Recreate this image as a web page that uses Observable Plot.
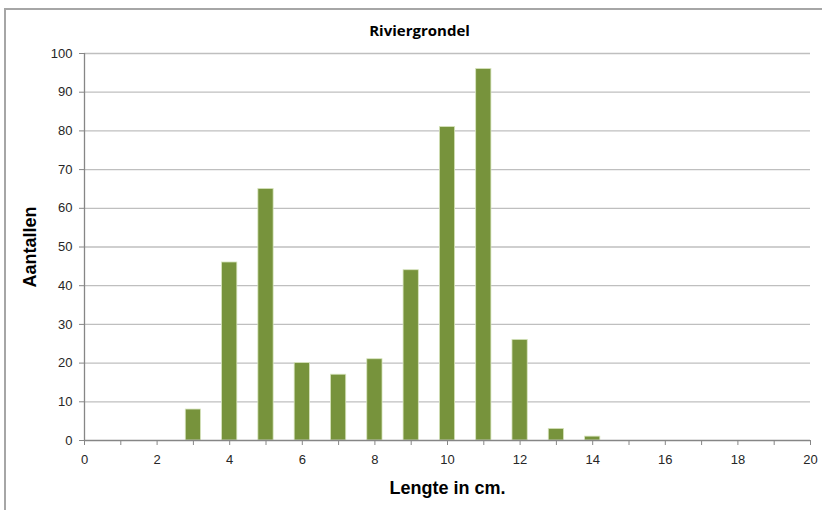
<!DOCTYPE html>
<html>
<head>
<meta charset="utf-8">
<script src="https://cdn.jsdelivr.net/npm/d3@7"></script>
<script src="https://cdn.jsdelivr.net/npm/@observablehq/plot@0.6"></script>
<style>
  html, body { margin: 0; padding: 0; background: #fff; }
  #wrap { position: relative; width: 822px; height: 510px; overflow: hidden; }
  #frame { position: absolute; left: 4px; top: 8px; width: 830px; height: 520px;
           border-left: 2px solid #a6a6a6; border-top: 2px solid #a6a6a6; box-sizing: border-box; }
  #chart { position: absolute; left: 0; top: 0; }
</style>
</head>
<body>
<div id="wrap"><div id="frame"></div><div id="chart"></div></div>
<script>
const title = "Riviergrondel";
const xLabel = "Lengte in cm.";
const yLabel = "Aantallen";
const lengths = [3, 4, 5, 6, 7, 8, 9, 10, 11, 12, 13, 14];
const counts  = [8, 46, 65, 20, 17, 21, 44, 81, 96, 26, 3, 1];
const xTicks = d3.range(0, 21, 1);
const yTicks = d3.range(0, 101, 10);

const data = lengths.map((l, i) => ({len: l, count: counts[i]}));
const half = 0.21;

const chart = Plot.plot({
  width: 822,
  height: 510,
  marginLeft: 84,
  marginRight: 12,
  marginTop: 53,
  marginBottom: 70,
  style: {fontFamily: "'Liberation Sans', Arial, sans-serif", fontSize: "13px", background: "transparent", color: "#262626"},
  x: {domain: [0, 20]},
  y: {domain: [0, 100]},
  marks: [
    Plot.gridY(yTicks.filter(d => d > 0), {stroke: "#bfbfbf", strokeOpacity: 1, strokeWidth: 1.3}),
    Plot.rect(data, {x1: d => d.len - half, x2: d => d.len + half, y1: 0, y2: "count",
                     fill: "#77933C", stroke: "#d7e4bd", strokeWidth: 0.8}),
    Plot.ruleY([0], {stroke: "#868686", strokeWidth: 1.3}),
    Plot.ruleX([0], {stroke: "#868686", strokeWidth: 1.3}),
    Plot.axisY(yTicks, {tickSize: 5, tickPadding: 7, stroke: "#868686", fill: "#262626", label: null, fontSize: 13}),
    Plot.axisX(xTicks, {tickSize: 5, tickPadding: 9, stroke: "#868686", fill: "#262626", label: null, fontSize: 13,
                        tickFormat: d => d % 2 ? "" : String(d)}),
    Plot.text([title], {frameAnchor: "top", dy: -28, dx: -28, fontWeight: "bold", fontSize: 15,
                        fontFamily: "'Open Sans', sans-serif", fill: "#000"}),
    Plot.text([xLabel], {frameAnchor: "bottom", dy: 53, fontWeight: "bold", fontSize: 18, fill: "#000"}),
    Plot.text([yLabel], {frameAnchor: "left", textAnchor: "middle", dx: -54, rotate: -90, fontWeight: "bold", fontSize: 18, fill: "#000"})
  ]
});
document.getElementById("chart").appendChild(chart);
</script>
</body>
</html>
